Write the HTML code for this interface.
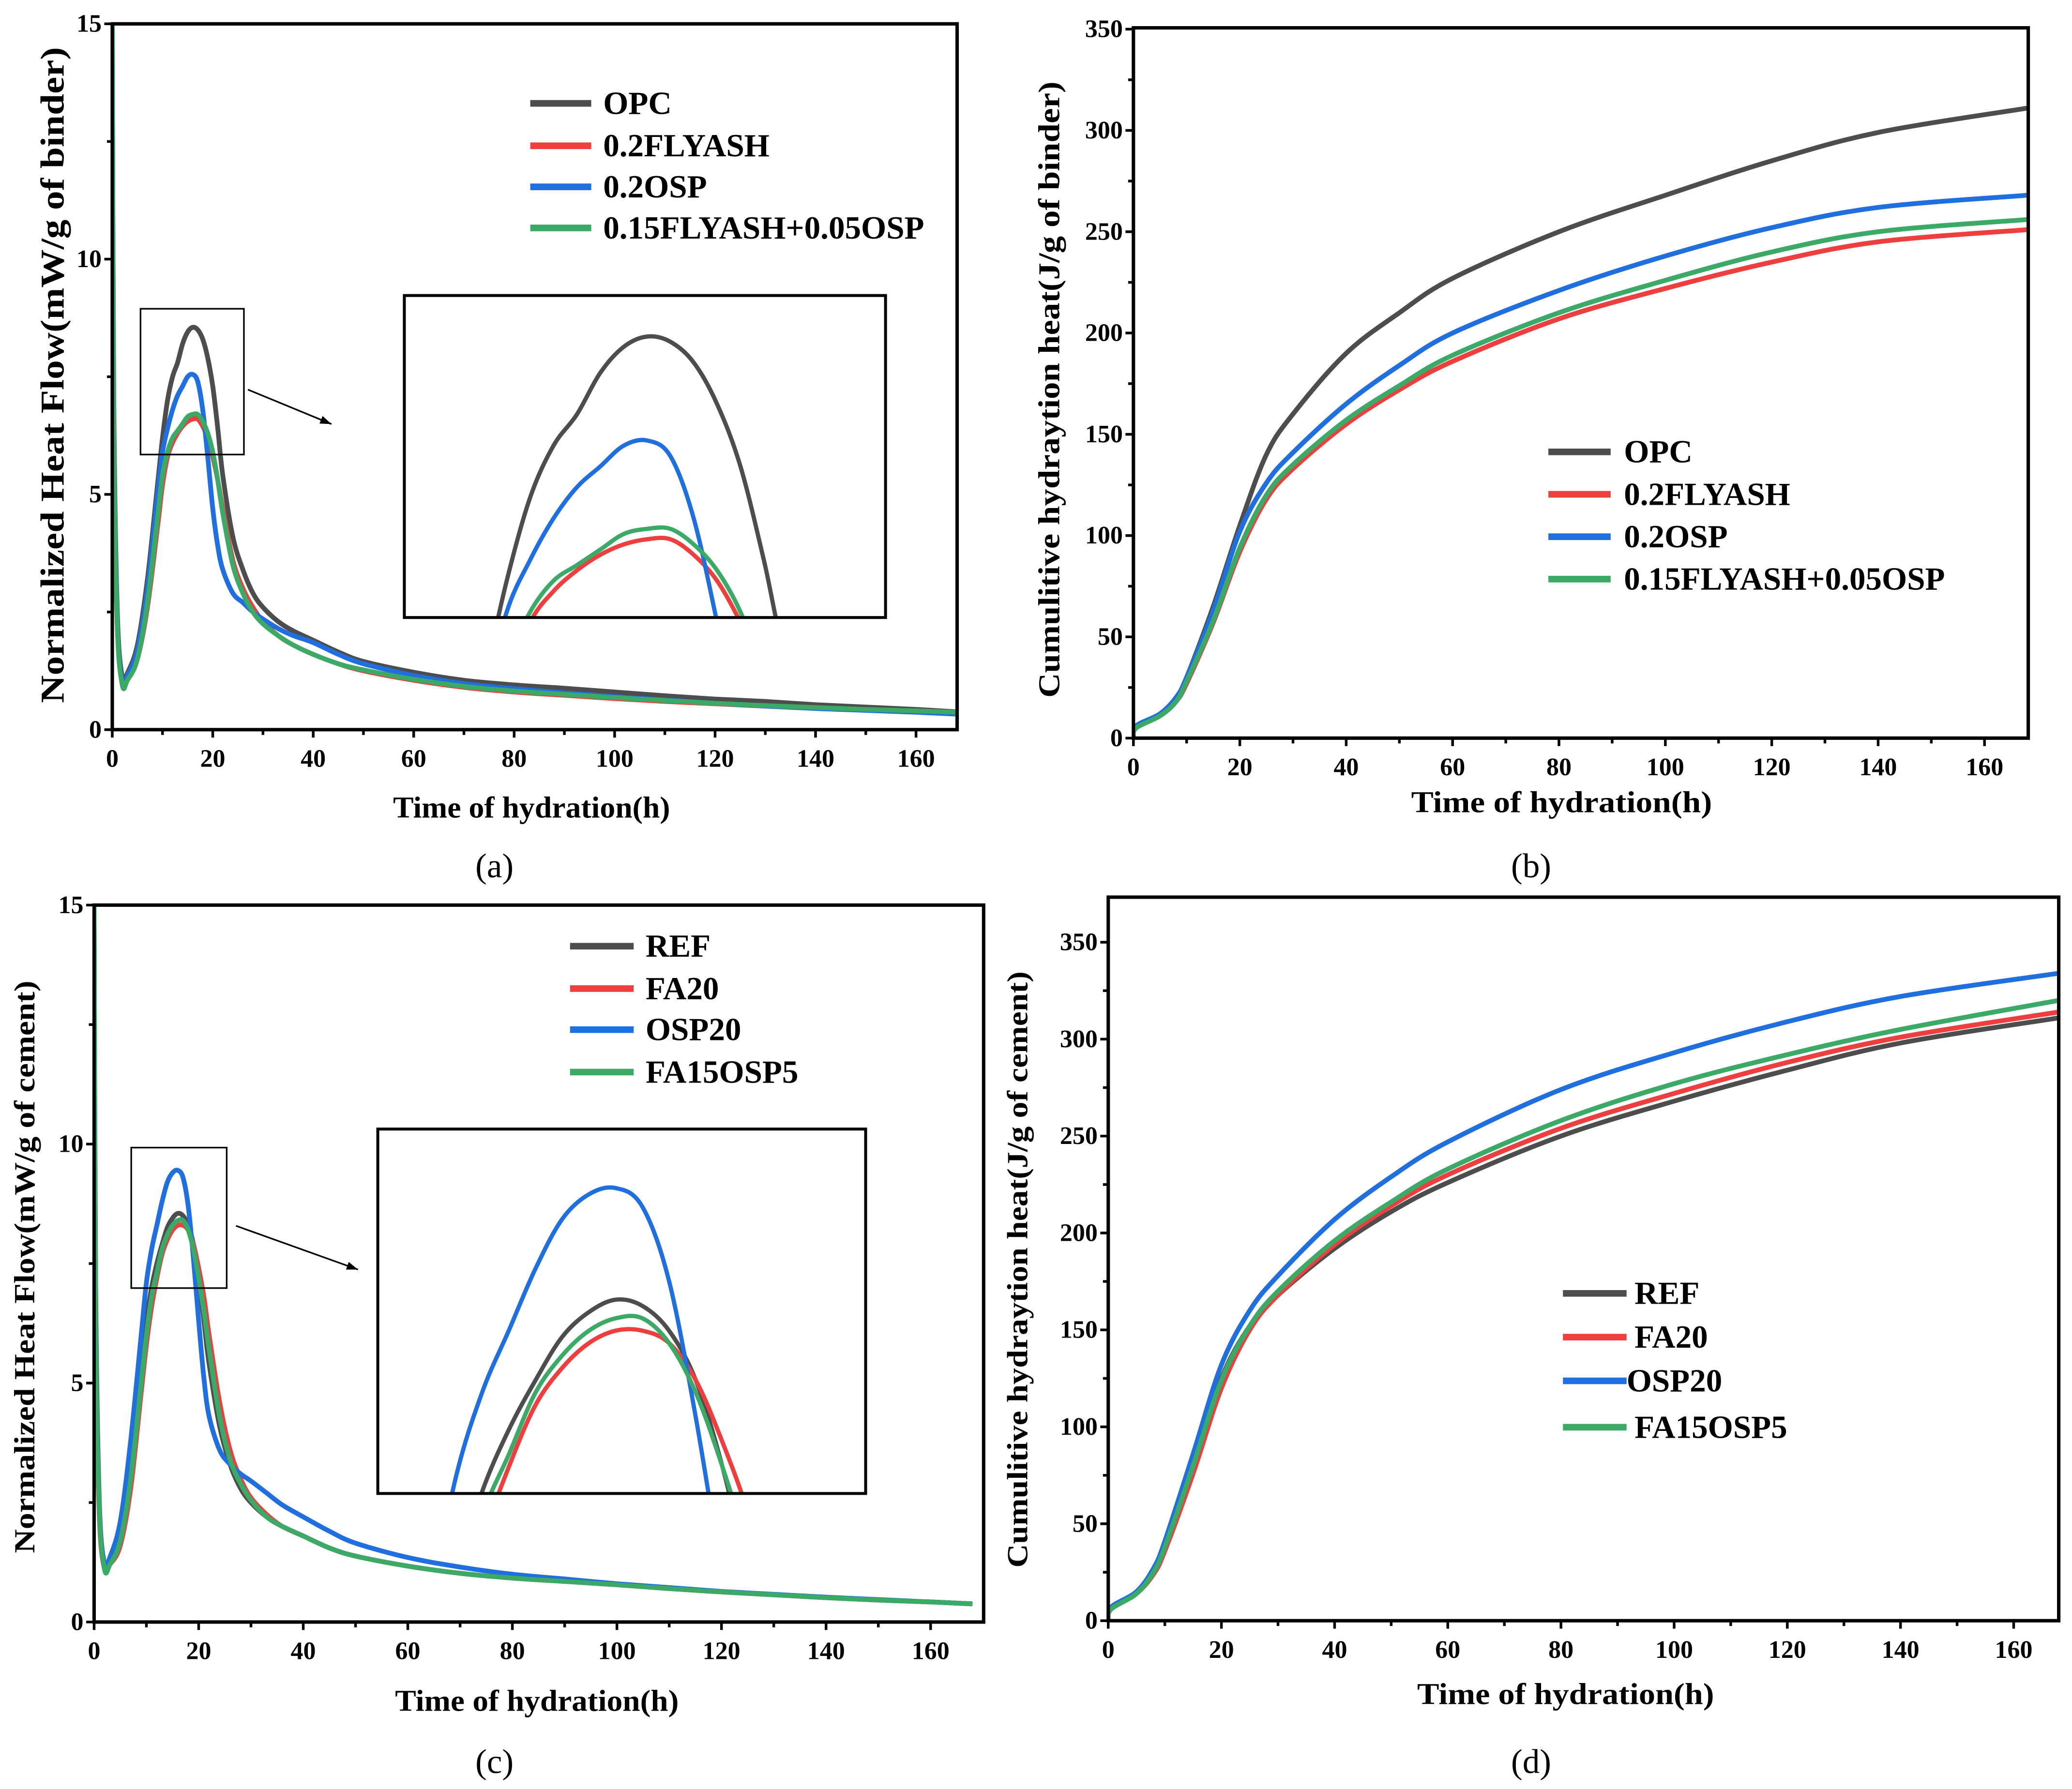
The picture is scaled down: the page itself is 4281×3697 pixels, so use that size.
<!DOCTYPE html>
<html><head><meta charset="utf-8">
<style>
html,body{margin:0;padding:0;background:#fff;overflow:hidden;width:4281px;height:3697px;position:relative;}
svg{display:block;position:absolute;left:0;top:0;}
text{font-family:"Liberation Serif",serif;}
</style></head>
<body>
<svg id="fig" xmlns="http://www.w3.org/2000/svg" width="4281" height="3697" viewBox="0 0 1563 1350" preserveAspectRatio="none" overflow="hidden"></svg>
<script>
// ---------- DATA ----------
const tHeat = [0,0.3,1,2,3,5,7,9,10,11,12,13,14,15,16,17,18,19,20,21,22,24,26,28,30,33,36,40,45,50,60,70,80,90,100,110,120,130,140,150,160,168];
const opc     = [15,7,2.5,1.1,1.2,1.8,3.2,5.2,6.2,7.0,7.5,7.8,8.2,8.45,8.55,8.5,8.3,7.9,7.3,6.4,5.4,4.1,3.4,2.9,2.6,2.3,2.1,1.9,1.65,1.45,1.22,1.05,0.95,0.88,0.8,0.72,0.65,0.6,0.53,0.48,0.43,0.38];
const flyash  = [15,6,2.2,0.95,1.05,1.5,2.6,4.3,5.2,5.8,6.1,6.3,6.45,6.55,6.6,6.6,6.45,6.2,5.8,5.3,4.7,3.6,3.0,2.6,2.3,2.0,1.8,1.6,1.4,1.25,1.05,0.9,0.8,0.73,0.66,0.6,0.55,0.5,0.46,0.42,0.39,0.36];
const osp     = [15,6.5,2.3,1.0,1.15,1.7,3.0,5.0,5.9,6.4,6.8,7.1,7.3,7.5,7.55,7.4,6.8,5.8,4.7,3.9,3.4,2.9,2.7,2.5,2.35,2.15,2.0,1.85,1.6,1.4,1.15,0.98,0.87,0.78,0.7,0.63,0.56,0.5,0.45,0.41,0.37,0.33];
const mix     = [15,6.3,2.2,0.95,1.05,1.5,2.7,4.5,5.4,5.9,6.2,6.35,6.5,6.65,6.7,6.7,6.55,6.3,5.9,5.3,4.6,3.5,2.9,2.5,2.25,2.0,1.8,1.6,1.4,1.27,1.07,0.92,0.82,0.75,0.68,0.62,0.56,0.51,0.47,0.43,0.4,0.37];
const ref     = [15,7,2.5,1.2,1.3,1.9,3.3,5.3,6.3,7.0,7.5,7.9,8.25,8.45,8.55,8.5,8.3,7.9,7.2,6.3,5.4,4.1,3.3,2.8,2.5,2.2,2.0,1.8,1.55,1.38,1.17,1.02,0.92,0.85,0.78,0.7,0.63,0.57,0.51,0.46,0.42,0.38];
const fa20    = [15,6,2.2,1.1,1.2,1.6,2.8,4.8,5.8,6.6,7.2,7.7,8.0,8.2,8.3,8.3,8.2,7.9,7.4,6.8,6.0,4.6,3.6,3.0,2.6,2.25,2.0,1.8,1.55,1.38,1.17,1.02,0.92,0.85,0.78,0.7,0.63,0.57,0.51,0.46,0.42,0.38];
const osp20   = [15,6.5,2.4,1.2,1.35,2.1,3.8,6.0,7.1,7.8,8.3,8.8,9.2,9.4,9.45,9.3,8.7,7.6,6.3,5.1,4.3,3.6,3.3,3.1,2.95,2.7,2.45,2.2,1.9,1.65,1.35,1.15,1.0,0.9,0.8,0.72,0.64,0.58,0.52,0.47,0.42,0.38];
const fa15    = [15,6.2,2.3,1.1,1.2,1.7,3.0,5.0,6.0,6.8,7.3,7.8,8.1,8.3,8.4,8.4,8.2,7.8,7.2,6.5,5.7,4.3,3.4,2.9,2.55,2.2,2.0,1.8,1.55,1.38,1.17,1.02,0.92,0.85,0.78,0.7,0.63,0.57,0.51,0.46,0.42,0.38];

const tCum = [0,0.5,5,8,10,15,20,25,30,40,50,60,80,100,120,140,168];
const cumOpc    = [0,6,12,20,30,65,105,140,160,190,210,227,250,268,285,299,311];
const cumOsp    = [0,6,12,20,30,63,102,126,141,165,184,200,221,238,252,262,268];
const cumFly    = [0,5,11,18,27,57,92,118,133,155,172,186,207,222,235,245,251];
const cumMix    = [0,5,11,18,28,58,94,120,135,157,174,189,210,226,240,250,256];
const cumRef    = [0,6,14,25,38,80,125,152,168,192,211,226,250,268,284,298,311];
const cumFa20   = [0,6,14,24,36,76,120,150,168,194,214,230,254,272,288,301,314];
const cumOsp20  = [0,7,15,27,41,86,132,160,178,207,229,247,274,293,309,322,334];
const cumFa15   = [0,6,14,25,38,80,124,152,170,196,216,233,258,277,292,305,320];

const xTicks = [0,20,40,60,80,100,120,140,160];
const yTicksHeat = [0,5,10,15];
const yTicksCum = [0,50,100,150,200,250,300,350];

const C = {gray:'#4d4d4d', red:'#ee3e3e', blue:'#1f6fe0', green:'#3aaa66'};
const NS='http://www.w3.org/2000/svg';
const svg=document.getElementById('fig');
function el(tag,attrs,parent){const e=document.createElementNS(NS,tag);for(const k in attrs)e.setAttribute(k,attrs[k]);(parent||svg).appendChild(e);return e;}
function smooth(pts){let d='M'+pts[0][0].toFixed(2)+','+pts[0][1].toFixed(2);for(let i=0;i<pts.length-1;i++){const p0=pts[Math.max(0,i-1)],p1=pts[i],p2=pts[i+1],p3=pts[Math.min(pts.length-1,i+2)];const c1=[p1[0]+(p2[0]-p0[0])/6,p1[1]+(p2[1]-p0[1])/6],c2=[p2[0]-(p3[0]-p1[0])/6,p2[1]-(p3[1]-p1[1])/6];d+='C'+c1[0].toFixed(2)+','+c1[1].toFixed(2)+' '+c2[0].toFixed(2)+','+c2[1].toFixed(2)+' '+p2[0].toFixed(2)+','+p2[1].toFixed(2);}return d;}

function panel(cfg){
  const g=el('g',{});
  
  
  const {L,R,T,B,x0px,x160px,ymaxPx,ymax}=cfg;
  const sx=v=>x0px+v*(x160px-x0px)/160;
  const sy=v=>B+(ymaxPx-B)*v/ymax;
  const clipId='clip'+cfg.id;
  const cp=el('clipPath',{id:clipId},g);el('rect',{x:L,y:T,width:R-L,height:B-T},cp);
  cfg.series.forEach(s=>{
    const p=el('path',{d:smooth(s.t.map((t,i)=>[sx(t),sy(s.v[i])])),fill:'none',stroke:s.c,'stroke-width':3.6,'stroke-linejoin':'round','clip-path':'url(#'+clipId+')'},g);
    
    
  });
  const fr=el('rect',{x:L,y:T,width:R-L,height:B-T,fill:'none',stroke:'#000','stroke-width':2.6},g);
  
  
  for(let v=0;v<=168;v+=10){const x=sx(v);const major=v%20===0;el('line',{x1:x,x2:x,y1:B,y2:B+(major?6:4),stroke:'#000','stroke-width':2},g);}
  xTicks.forEach(v=>{const t=el('text',{x:sx(v),y:B+28,'text-anchor':'middle','font-size':cfg.tickFs,'font-weight':'bold'},g);t.textContent=v;
    
    });
  const yt=cfg.yTicks, step=yt[1]-yt[0];
  for(let v=0;v<=ymax+0.001;v+=step/2){const y=sy(v);const major=Math.abs(v/step-Math.round(v/step))<1e-6;el('line',{x1:L,x2:L-(major?6:4),y1:y,y2:y,stroke:'#000','stroke-width':2},g);}
  yt.forEach(v=>{const t=el('text',{x:L-8,y:sy(v)+6,'text-anchor':'end','font-size':cfg.tickFs,'font-weight':'bold'},g);t.textContent=v;
    
    });
  const xt=el('text',{x:cfg.xtitle[0],y:cfg.xtitle[1],'text-anchor':'middle','font-size':23,'font-weight':'bold',textLength:cfg.xtitle[2],lengthAdjust:'spacingAndGlyphs'},g);xt.textContent='Time of hydration(h)';
  
  
  const ytl=el('text',{x:0,y:0,'text-anchor':'middle','font-size':cfg.ytitle[3],'font-weight':'bold',textLength:cfg.ytitle[4],lengthAdjust:'spacingAndGlyphs',transform:'translate('+cfg.ytitle[0]+','+cfg.ytitle[1]+') rotate(-90)'},g);ytl.textContent=cfg.ytitle[2];
  
  
  const pl=el('text',{x:cfg.plabel[0],y:cfg.plabel[1],'text-anchor':'middle','font-size':26},g);pl.textContent=cfg.plabel[2];
  
  
  const lg=el('g',{},g);
  
  
  const txs=cfg.leg.tx||[];
  cfg.series.forEach((s,i)=>{const y=cfg.leg.ys[i];
    el('line',{x1:cfg.leg.x1,x2:cfg.leg.x2,y1:y,y2:y,stroke:s.c,'stroke-width':5},lg);
    const tx=(txs[i]!==undefined)?txs[i]:cfg.leg.tx0;
    const t=el('text',{x:tx,y:y+8,'font-size':24.5,'font-weight':'bold'},lg);t.textContent=s.label;
    
    });
  if(cfg.inset){
    const I=cfg.inset;
    const bx=el('rect',{x:I.box[0],y:I.box[1],width:I.box[2]-I.box[0],height:I.box[3]-I.box[1],fill:'none',stroke:'#000','stroke-width':1.2},g);
    
    
    el('line',{x1:I.arrow[0],y1:I.arrow[1],x2:I.arrow[2],y2:I.arrow[3],stroke:'#000','stroke-width':1.2},g);
    const ang=Math.atan2(I.arrow[3]-I.arrow[1],I.arrow[2]-I.arrow[0]);
    const ax=I.arrow[2],ay=I.arrow[3];
    el('path',{d:`M${ax},${ay}L${ax-9*Math.cos(ang-0.35)},${ay-9*Math.sin(ang-0.35)}L${ax-9*Math.cos(ang+0.35)},${ay-9*Math.sin(ang+0.35)}Z`,fill:'#000'},g);
    const [bx0,by0,bx1,by1]=I.box,[ix0,iy0,ix1,iy1]=I.rect;
    const icp=el('clipPath',{id:clipId+'i'},g);el('rect',{x:ix0,y:iy0,width:ix1-ix0,height:iy1-iy0},icp);
    const mx=x=>ix0+(x-bx0)*(ix1-ix0)/(bx1-bx0), my=y=>iy0+(y-by0)*(iy1-iy0)/(by1-by0);
    cfg.series.forEach(s=>{
      const p=el('path',{d:smooth(s.t.map((t,i)=>[mx(sx(t)),my(sy(s.v[i]))])),fill:'none',stroke:s.c,'stroke-width':3.2,'clip-path':'url(#'+clipId+'i)'},g);
      
      
    });
    const ir=el('rect',{x:ix0,y:iy0,width:ix1-ix0,height:iy1-iy0,fill:'none',stroke:'#000','stroke-width':2.2},g);
    
    
  }
}

panel({id:'a',name:'panel-a',L:84.7,R:722,T:18,B:550.6,x0px:84.7,x160px:691,ymaxPx:18,ymax:15,yTicks:yTicksHeat,tickFs:19,
  series:[{key:'opc',label:'OPC',t:tHeat,v:opc,c:C.gray},{key:'flyash',label:'0.2FLYASH',t:tHeat,v:flyash,c:C.red},{key:'osp',label:'0.2OSP',t:tHeat,v:osp,c:C.blue},{key:'mix',label:'0.15FLYASH+0.05OSP',t:tHeat,v:mix,c:C.green}],
  xtitle:[401,617,209],ytitle:[48,283,'Normalized Heat Flow(mW/g of binder)',25,495],plabel:[373,662,'(a)'],
  leg:{x1:400,x2:446,tx0:455,ys:[78,110,141,172]},
  inset:{box:[106,233,184,343],arrow:[187,294,250,320],rect:[305,223,668,466]}});

panel({id:'b',name:'panel-b',L:855,R:1530,T:21,B:557,x0px:855,x160px:1497,ymaxPx:22,ymax:350,yTicks:yTicksCum,tickFs:19,
  series:[{key:'opc',label:'OPC',t:tCum,v:cumOpc,c:C.gray},{key:'flyash',label:'0.2FLYASH',t:tCum,v:cumFly,c:C.red},{key:'osp',label:'0.2OSP',t:tCum,v:cumOsp,c:C.blue},{key:'mix',label:'0.15FLYASH+0.05OSP',t:tCum,v:cumMix,c:C.green}],
  xtitle:[1178,613,227],ytitle:[799,294,'Cumulitive hydraytion heat(J/g of binder)',23,465],plabel:[1155,662,'(b)'],
  leg:{x1:1168,x2:1215,tx0:1225,ys:[341,373,405,437]}});

panel({id:'c',name:'panel-c',L:71,R:742,T:683,B:1224,x0px:71,x160px:702,ymaxPx:683,ymax:15,yTicks:yTicksHeat,tickFs:19,
  series:[{key:'ref',label:'REF',t:tHeat,v:ref,c:C.gray},{key:'fa20',label:'FA20',t:tHeat,v:fa20,c:C.red},{key:'osp20',label:'OSP20',t:tHeat,v:osp20,c:C.blue},{key:'fa15osp5',label:'FA15OSP5',t:tHeat,v:fa15,c:C.green}],
  xtitle:[405,1291,214],ytitle:[26,956,'Normalized Heat Flow(mW/g of cement)',22,432],plabel:[373,1338,'(c)'],
  leg:{x1:430,x2:478,tx0:487,ys:[714,746,777,809]},
  inset:{box:[99,866,171,972],arrow:[178,925,270,958],rect:[285,852,653,1127]}});

panel({id:'d',name:'panel-d',L:836,R:1553,T:677,B:1223,x0px:836,x160px:1519,ymaxPx:711,ymax:350,yTicks:yTicksCum,tickFs:19,
  series:[{key:'ref',label:'REF',t:tCum,v:cumRef,c:C.gray},{key:'fa20',label:'FA20',t:tCum,v:cumFa20,c:C.red},{key:'osp20',label:'OSP20',t:tCum,v:cumOsp20,c:C.blue},{key:'fa15osp5',label:'FA15OSP5',t:tCum,v:cumFa15,c:C.green}],
  xtitle:[1181,1286,224],ytitle:[775,958,'Cumulitive hydraytion heat(J/g of cement)',22,450],plabel:[1155,1338,'(d)'],
  leg:{x1:1179,x2:1227,tx0:1233,tx:[1233,1233,1227,1233],ys:[976,1009,1042,1077]}});
</script>
</body></html>
